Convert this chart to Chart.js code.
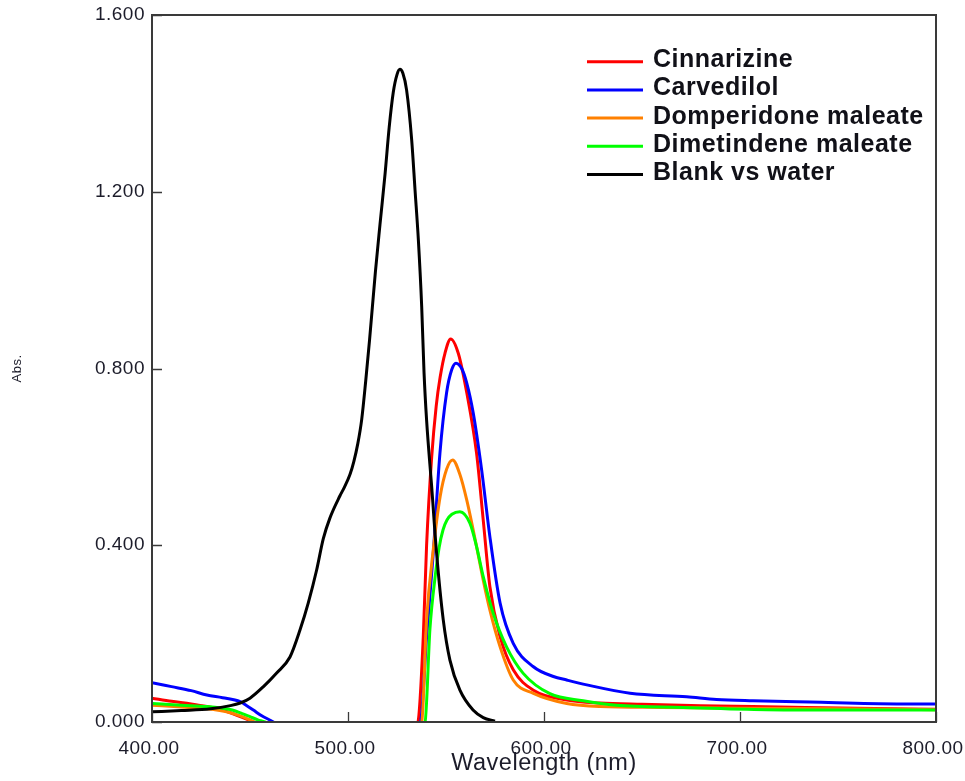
<!DOCTYPE html>
<html>
<head>
<meta charset="utf-8">
<title>Abs. vs Wavelength</title>
<script src="https://cdn.jsdelivr.net/npm/chart.js@4.4.0/dist/chart.umd.min.js"></script>
<style>
  html, body { margin: 0; padding: 0; background: #fff; }
  #wrap { width: 965px; height: 781px; }
</style>
</head>
<body>
<div id="wrap"><canvas id="spectra" width="965" height="781"></canvas></div>
<script>
// spectra, wavelength in nm / absorbance
const cinnarizineWl = [400, 410, 420, 428, 435, 440, 445, 450, 453, 470, 500, 530, 535.7, 538.4, 540.1, 542.7, 545, 547, 549.5, 552.4, 556.3, 560.6, 565.6, 569, 572.4, 577.6, 584.3, 594.6, 611.6, 628.6, 650, 680, 720, 760, 800];
const cinnarizineAbs = [0.054, 0.047, 0.041, 0.035, 0.028, 0.021, 0.012, 0.003, -0.005, -0.04, -0.05, -0.03, 0.0, 0.192, 0.40, 0.60, 0.715, 0.78, 0.835, 0.867, 0.834, 0.745, 0.608, 0.457, 0.306, 0.193, 0.118, 0.072, 0.05, 0.043, 0.040, 0.037, 0.034, 0.031, 0.029];

const carvedilolWl = [400, 410, 420, 428, 436, 445, 448, 451.7, 456, 461.9, 470, 500, 530, 537, 540.1, 543.5, 546.9, 550.3, 552.9, 555.1, 558, 560.6, 563.9, 568.2, 572.4, 577.6, 584.3, 594.6, 604.8, 611.6, 621.8, 643.9, 672.8, 688, 706.6, 735.7, 780, 800];
const carvedilolAbs = [0.089, 0.080, 0.071, 0.061, 0.055, 0.046, 0.038, 0.027, 0.014, 0.0, -0.03, -0.05, -0.03, 0.0, 0.192, 0.382, 0.608, 0.745, 0.797, 0.812, 0.80, 0.767, 0.699, 0.57, 0.419, 0.269, 0.178, 0.125, 0.103, 0.095, 0.084, 0.065, 0.057, 0.051, 0.048, 0.045, 0.041, 0.041];

const domperidoneWl = [400, 415, 428, 440, 445, 450, 455, 470, 500, 530, 537.6, 540.1, 543.5, 547, 550.3, 553.4, 557.1, 560.6, 565.6, 569, 572.4, 577.6, 584.3, 594.6, 611.6, 628.6, 660, 700, 750, 800];
const domperidoneAbs = [0.038, 0.034, 0.030, 0.021, 0.014, 0.005, -0.005, -0.04, -0.05, -0.03, 0.0, 0.231, 0.39, 0.51, 0.572, 0.593, 0.56, 0.502, 0.397, 0.321, 0.253, 0.17, 0.095, 0.065, 0.042, 0.035, 0.033, 0.031, 0.030, 0.028];

const dimetindeneWl = [400, 415, 428, 436, 441, 446, 450, 454, 457.6, 470, 500, 530, 539.3, 541.8, 544.5, 546.5, 548.5, 550.5, 553, 557.1, 562.2, 565.6, 569, 574.1, 580.9, 589.4, 603, 620, 637, 671, 713.6, 760, 800];
const dimetindeneAbs = [0.042, 0.038, 0.035, 0.031, 0.027, 0.019, 0.012, 0.005, 0.0, -0.03, -0.05, -0.03, 0.0, 0.21, 0.33, 0.395, 0.435, 0.457, 0.47, 0.476, 0.45, 0.397, 0.329, 0.246, 0.17, 0.11, 0.064, 0.048, 0.038, 0.033, 0.028, 0.027, 0.027];

const blankWl = [400, 415, 430, 440, 445, 450, 456.6, 463.6, 470.4, 475.5, 479.7, 484, 487.4, 490.8, 495.9, 498, 501, 503, 505, 507, 509, 511, 514, 516.3, 518.9, 521, 523.1, 525, 526.5, 528, 529.9, 532.5, 534.2, 535.9, 537.6, 538.8, 540.1, 542.7, 545.2, 548.6, 552, 557.1, 563.8, 569, 575];
const blankAbs = [0.023, 0.026, 0.030, 0.037, 0.043, 0.054, 0.079, 0.111, 0.147, 0.208, 0.269, 0.344, 0.415, 0.462, 0.512, 0.53, 0.56, 0.59, 0.63, 0.685, 0.77, 0.865, 1.02, 1.125, 1.24, 1.345, 1.425, 1.465, 1.477, 1.468, 1.43, 1.317, 1.204, 1.091, 0.94, 0.79, 0.683, 0.532, 0.382, 0.231, 0.14, 0.072, 0.027, 0.01, 0.002];

const seriesLabels = ["Cinnarizine", "Carvedilol", "Domperidone maleate", "Dimetindene maleate", "Blank vs water"];
const seriesColors = ["#ff0000", "#0000ff", "#ff8000", "#00ff00", "#000000"];
const xTicks = [400, 500, 600, 700, 800];
const yTicks = [0, 0.4, 0.8, 1.2, 1.6];

const FONT = '"Liberation Sans", Arial, sans-serif';
const TEXT = "#1c1c2a";

function toPoints(wl, abs) {
  return wl.map((w, i) => ({ x: w, y: abs[i] }));
}

const spectra = [
  [cinnarizineWl, cinnarizineAbs],
  [carvedilolWl, carvedilolAbs],
  [domperidoneWl, domperidoneAbs],
  [dimetindeneWl, dimetindeneAbs],
  [blankWl, blankAbs]
];

// later spectra sit on top (lower order is drawn last)
const datasets = spectra.map(([wl, abs], i) => ({
  label: seriesLabels[i],
  data: toPoints(wl, abs),
  borderColor: seriesColors[i],
  backgroundColor: seriesColors[i],
  borderWidth: 3,
  pointRadius: 0,
  cubicInterpolationMode: "monotone",
  fill: false,
  order: spectra.length - 1 - i
}));

// slightly wider text, like the instrument software prints it
const spacing = {
  id: "spacing",
  beforeLayout(chart) { chart.ctx.letterSpacing = "0.5px"; },
  beforeDraw(chart) { chart.ctx.letterSpacing = "0.5px"; }
};

// box round the plot plus short inward tick marks
const frameAndTicks = {
  id: "frameAndTicks",
  afterDatasetsDraw(chart) {
    const { ctx, chartArea: a, scales: { x, y } } = chart;
    ctx.save();
    ctx.strokeStyle = "#3a3a3a";
    ctx.lineWidth = 2;
    ctx.strokeRect(a.left, a.top, a.right - a.left, a.bottom - a.top);
    ctx.beginPath();
    ctx.lineWidth = 1.3;
    yTicks.forEach(v => {
      const py = Math.round(y.getPixelForValue(v)) + 0.5;
      ctx.moveTo(a.left, py);
      ctx.lineTo(a.left + 10, py);
    });
    xTicks.forEach(v => {
      const px = Math.round(x.getPixelForValue(v)) + 0.5;
      ctx.moveTo(px, a.bottom);
      ctx.lineTo(px, a.bottom - 10);
    });
    ctx.stroke();
    ctx.restore();
  }
};

// legend inside the top right corner of the plot
const insetLegend = {
  id: "insetLegend",
  afterDraw(chart) {
    const { ctx, chartArea: a } = chart;
    ctx.save();
    ctx.font = "bold 25px " + FONT;
    ctx.letterSpacing = "0.5px";
    ctx.textBaseline = "alphabetic";
    ctx.textAlign = "left";
    chart.data.datasets.forEach((ds, i) => {
      const rowY = a.top + 46.7 + i * 28.2;
      ctx.strokeStyle = ds.borderColor;
      ctx.lineWidth = 3;
      ctx.beginPath();
      ctx.moveTo(a.left + 435, rowY);
      ctx.lineTo(a.left + 491, rowY);
      ctx.stroke();
      ctx.fillStyle = "#111118";
      ctx.fillText(ds.label, a.left + 501, rowY + 5.5);
    });
    ctx.restore();
  }
};

new Chart(document.getElementById("spectra"), {
  type: "line",
  data: { datasets },
  options: {
    responsive: false,
    animation: false,
    layout: { padding: { left: 0, top: 15, right: 29, bottom: 0 } },
    plugins: {
      legend: { display: false },
      tooltip: { enabled: false }
    },
    scales: {
      x: {
        type: "linear",
        min: 400,
        max: 800,
        afterBuildTicks: s => { s.ticks = xTicks.map(v => ({ value: v })); },
        afterFit: s => { s.height = 59; s.paddingLeft = 0; s.paddingRight = 0; },
        grid: { display: false, drawTicks: false },
        border: { display: false },
        ticks: {
          callback: v => v.toFixed(2),
          font: { family: FONT, size: 19 },
          color: TEXT,
          padding: 15,
          labelOffset: -3,
          maxRotation: 0
        },
        title: {
          display: true,
          text: "Wavelength (nm)",
          font: { family: FONT, size: 23.5 },
          color: TEXT,
          padding: { top: 0, bottom: 3 }
        }
      },
      y: {
        min: 0,
        max: 1.6,
        afterBuildTicks: s => { s.ticks = yTicks.map(v => ({ value: v })); },
        afterFit: s => { s.width = 152; s.paddingTop = 0; s.paddingBottom = 0; },
        grid: { display: false, drawTicks: false },
        border: { display: false },
        ticks: {
          callback: v => v.toFixed(3),
          font: { family: FONT, size: 19 },
          color: TEXT,
          padding: 7
        },
        title: {
          display: true,
          text: "Abs.",
          font: { family: FONT, size: 13 },
          color: TEXT,
          padding: { top: 10, bottom: 0 }
        }
      }
    }
  },
  plugins: [spacing, frameAndTicks, insetLegend]
});
</script>
</body>
</html>
